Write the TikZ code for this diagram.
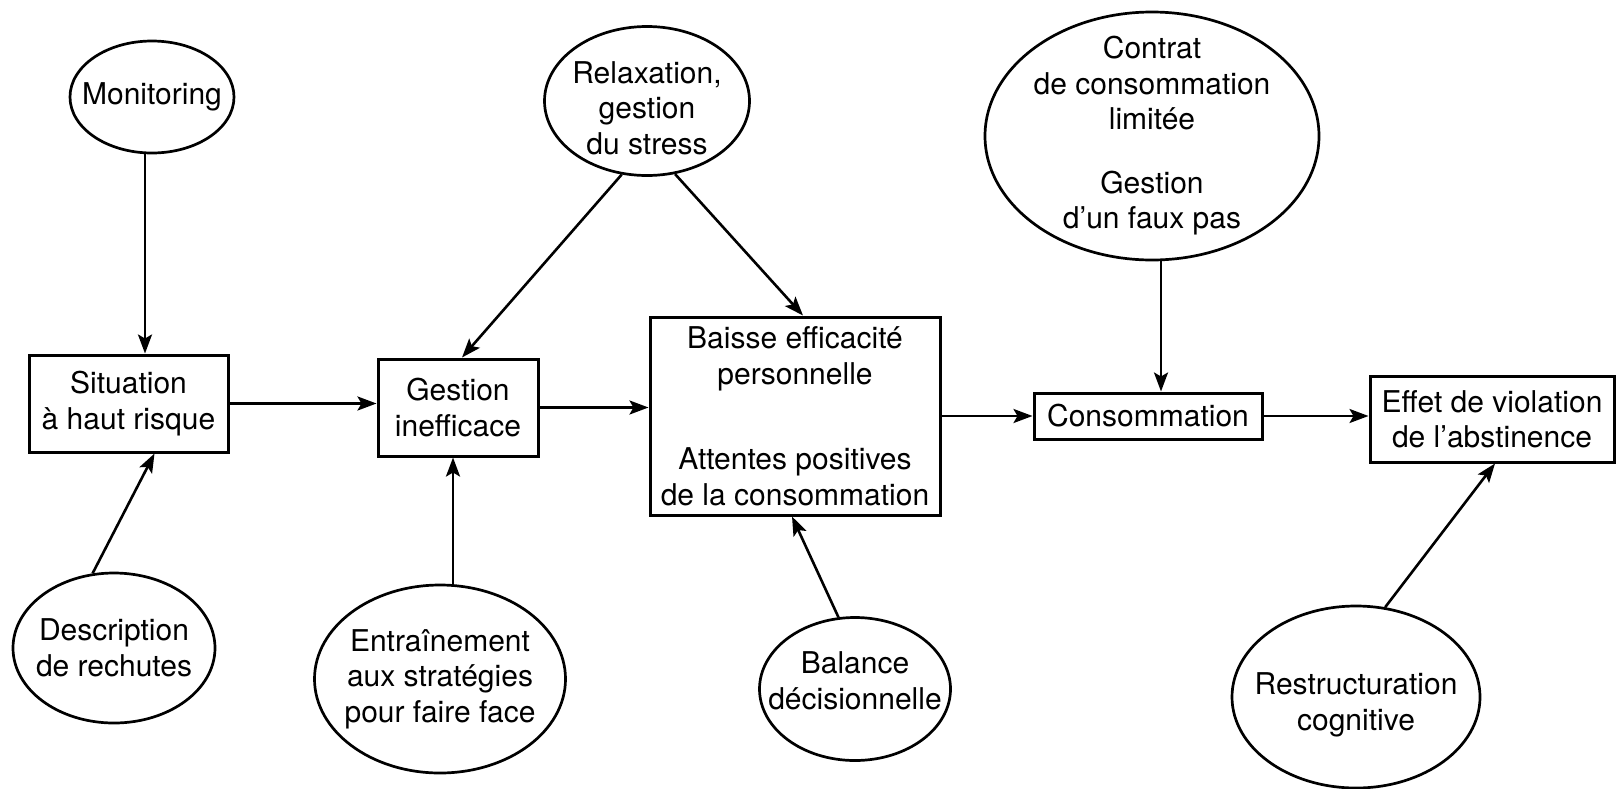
\documentclass[tikz,border=0pt]{standalone}
\usepackage{fontspec}
\setmainfont{TeX Gyre Heros}
\usetikzlibrary{shapes.geometric,arrows.meta}
\begin{document}
\begin{tikzpicture}[x=1pt,y=-1pt,
  every node/.style={font=\fontsize{30}{35.5}\selectfont, align=center},
  oval/.style={draw, line width=2.7pt, ellipse, inner sep=-40pt},
  box/.style={draw, line width=3pt, rectangle, inner sep=0pt},
  arr/.style={line width=2.6pt, -{Stealth[length=19pt,width=14pt,inset=4pt]}}]
\useasboundingbox (0,0) rectangle (1616,788);
\fill[white] (0,0) rectangle (1616,788);

% ovals
\node[oval, minimum width=164pt, minimum height=112pt] (mon) at (152,97) {Monitoring};
\node[oval, minimum width=205pt, minimum height=149pt] (rel) at (647,101)
  {\rule{0pt}{36pt}Relaxation,\\gestion\\du stress};
\node[oval, minimum width=334pt, minimum height=248pt] (con) at (1152,136)
  {Contrat\\de consommation\\limitée\\[28pt]Gestion\\d’un faux pas};
\node[oval, minimum width=202pt, minimum height=150pt] (desc) at (114,648)
  {Description\\de rechutes};
\node[oval, minimum width=251pt, minimum height=188pt] (ent) at (440,679)
  {Entraînement\\aux stratégies\\pour faire face};
\node[oval, minimum width=191pt, minimum height=143pt] (bal) at (855,689)
  {Balance\\décisionnelle\rule[-17pt]{0pt}{17pt}};
\node[oval, minimum width=248pt, minimum height=182pt] (res) at (1356,697)
  {\rule{0pt}{38pt}Restructuration\\cognitive};

% boxes
\node[box, minimum width=199pt, minimum height=97pt] (sit) at (128.5,403.5)
  {Situation\\à haut risque};
\node[box, minimum width=160pt, minimum height=97pt] (gest) at (458,407.5)
  {Gestion\\inefficace};
\node[box, minimum width=290pt, minimum height=198pt] (bai) at (795,416)
  {Baisse efficacité\\personnelle\\[50pt]Attentes positives\\de la consommation};
\node[box, minimum width=228pt, minimum height=46pt] (cons) at (1148,416)
  {Consommation};
\node[box, minimum width=244pt, minimum height=86pt] (eff) at (1492,419)
  {Effet de violation\\de l’abstinence};

% connectors
\draw[arr] ([xshift=-7pt]mon.south) -- ([xshift=-7pt]mon.south |- sit.north);
\draw[arr] (desc.106) -- ([xshift=26pt]sit.south);
\draw[arr] (sit.east) -- (sit.east -| gest.west);
\draw[arr] (rel.251) -- ([xshift=4pt]gest.north);
\draw[arr] (rel.291) -- ([xshift=8pt]bai.north);
\draw[arr] ([xshift=13pt]ent.north) -- ([xshift=-5pt]gest.south);
\draw[arr] (gest.east) -- (gest.east -| bai.west);
\draw[arr] (bal.103) -- ([xshift=-3pt]bai.south);
\draw[arr] (bai.east |- cons.west) -- (cons.west);
\draw[arr] ([xshift=9pt]con.south) -- ([xshift=9pt]con.south |- cons.north);
\draw[arr] (cons.east) -- (cons.east -| eff.west);
\draw[arr] (res.72) -- ([xshift=3pt]eff.south);
\end{tikzpicture}
\end{document}
